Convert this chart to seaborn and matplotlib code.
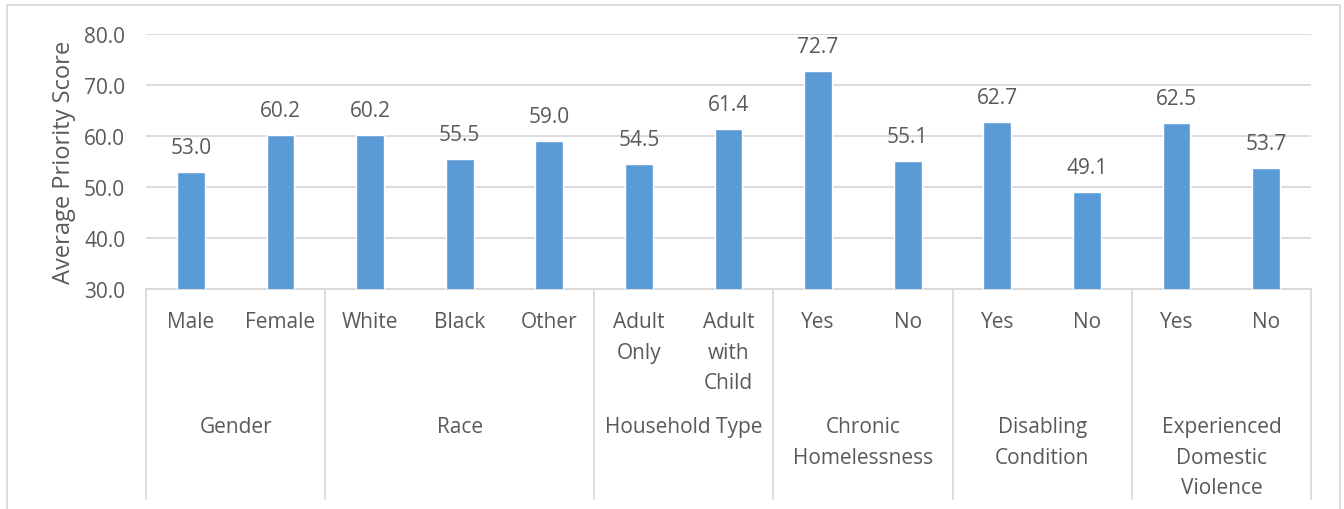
import matplotlib
matplotlib.use("Agg")
import matplotlib.pyplot as plt
import matplotlib.transforms as mtransforms
from matplotlib.lines import Line2D
import pandas as pd
import seaborn as sns

# Sub-category labels, their parent groups and the average scores
categories = ["Male", "Female", "White", "Black", "Other",
              "Adult\nOnly", "Adult\nwith\nChild", "Yes", "No",
              "Yes", "No", "Yes", "No"]
groups = ["Gender", "Gender", "Race", "Race", "Race",
          "Household Type", "Household Type",
          "Chronic\nHomelessness", "Chronic\nHomelessness",
          "Disabling\nCondition", "Disabling\nCondition",
          "Experienced\nDomestic\nViolence", "Experienced\nDomestic\nViolence"]
scores = [53.0, 60.2, 60.2, 55.5, 59.0, 54.5, 61.4, 72.7, 55.1, 62.7, 49.1, 62.5, 53.7]
y_ticks = [30, 40, 50, 60, 70, 80]

sns.set_theme(style="white")
plt.rcParams["font.family"] = ["Open Sans", "DejaVu Sans"]
TEXT = "#595959"
GRID = "#d9d9d9"
BAR = "#5b9bd5"
FS = 15
LS = 1.6

W, H = 1344, 510
fig = plt.figure(figsize=(W / 100, H / 100), dpi=100)
ax = fig.add_axes([146 / W, 1 - 290 / H, (1311 - 146) / W, (290 - 35) / H])

df = pd.DataFrame({"pos": [str(i) for i in range(len(scores))], "score": scores})
sns.barplot(data=df, x="pos", y="score", color=BAR, saturation=1,
            width=0.31, ax=ax, zorder=3)

ax.set_ylim(30, 80)
ax.set_xlim(-0.5, len(scores) - 0.5)
ax.set_yticks(y_ticks)
ax.set_yticklabels([f"{v:.1f}" for v in y_ticks], color=TEXT, fontsize=FS)
ax.tick_params(axis="y", length=0, pad=15)
ax.tick_params(axis="x", length=0, labelbottom=False)
ax.set_xlabel("")
ax.set_ylabel("Average Priority Score", color=TEXT, fontsize=17, labelpad=6)
ax.yaxis.grid(True, color=GRID, linewidth=1.3, zorder=0)
for side in ["top", "right", "left"]:
    ax.spines[side].set_visible(False)
ax.spines["bottom"].set_color(GRID)
ax.spines["bottom"].set_linewidth(1.3)

# Value labels above bars
for i, v in enumerate(scores):
    ax.annotate(f"{v:.1f}", (i, v), xytext=(0, 10), textcoords="offset points",
                ha="center", va="bottom", color=TEXT, fontsize=FS)

# Two-level category axis beneath the plot
trans = mtransforms.blended_transform_factory(ax.transData, fig.transFigure)
for i, lab in enumerate(categories):
    ax.text(i, 1 - 312 / H, lab, transform=trans, ha="center", va="top",
            color=TEXT, fontsize=FS, linespacing=LS)

bounds = [-0.5]
names = []
for i, g in enumerate(groups):
    if i == 0 or g != groups[i - 1]:
        if i > 0:
            bounds.append(i - 0.5)
        names.append(g)
bounds.append(len(groups) - 0.5)

for k, g in enumerate(names):
    center = (bounds[k] + bounds[k + 1]) / 2
    ax.text(center, 1 - 417 / H, g, transform=trans, ha="center", va="top",
            color=TEXT, fontsize=FS, linespacing=LS)

for b in bounds:
    fig.add_artist(Line2D([b, b], [1 - 290 / H, 1 - 500 / H], transform=trans,
                          color=GRID, linewidth=1.3, clip_on=False))

# Chart frame
fx0, fx1, fy1 = 7 / W, 1340 / W, 1 - 6 / H
fig.add_artist(Line2D([fx0, fx0, fx1, fx1], [0, fy1, fy1, 0],
                      transform=fig.transFigure, color=GRID, linewidth=1.3))

fig.savefig("out.png", dpi=100, facecolor="white")
